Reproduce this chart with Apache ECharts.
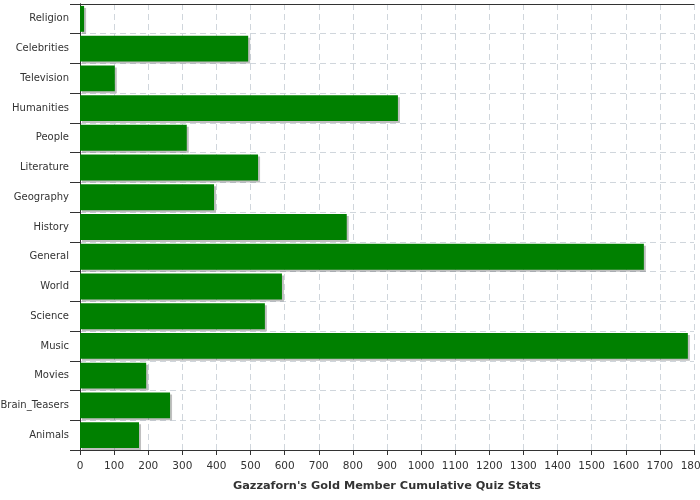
<!DOCTYPE html>
<html>
<head>
<meta charset="utf-8">
<script src="https://cdn.jsdelivr.net/npm/echarts@6/dist/echarts.min.js"></script>
<style>html,body{margin:0;padding:0;background:#fff;}#c{width:700px;height:500px;}</style>
</head>
<body>
<div id="c"></div>
<script>
var categories = ["Religion","Celebrities","Television","Humanities","People","Literature","Geography","History","General","World","Science","Music","Movies","Brain_Teasers","Animals"];
var values = [12, 493, 102, 932, 313, 522, 393, 782, 1653, 592, 542, 1782, 194, 264, 173];
var axisTitle = "Gazzaforn's Gold Member Cumulative Quiz Stats";

var chart = echarts.init(document.getElementById('c'), null, {renderer: 'canvas'});
var font = 'DejaVu Sans';
chart.setOption({
  animation: false,
  backgroundColor: '#fff',
  grid: {left: 80, right: 6, top: 4, bottom: 50, containLabel: false, outerBoundsMode: 'none'},
  xAxis: [{
    type: 'value', min: 0, max: 1800, interval: 100,
    name: axisTitle, nameLocation: 'middle', nameGap: 31,
    nameTextStyle: {fontFamily: font, fontSize: 11.3, fontWeight: 'bold', color: '#333'},
    axisLine: {show: true, lineStyle: {color: '#333'}},
    axisTick: {show: true, length: 5, lineStyle: {color: '#333'}},
    axisLabel: {fontFamily: font, fontSize: 10.5, color: '#333', margin: 11, formatter: function (v) { return String(v); }},
    splitLine: {show: true, lineStyle: {color: '#d0d6dc', type: [6, 4]}}
  }, {
    type: 'value', position: 'top', min: 0, max: 1800, interval: 100,
    axisLine: {show: true, lineStyle: {color: '#333'}},
    axisTick: {show: false}, axisLabel: {show: false}, splitLine: {show: false}
  }],
  yAxis: [{
    type: 'category', data: categories, inverse: true,
    axisLine: {show: true, lineStyle: {color: '#333'}},
    axisTick: {show: true, length: 10, lineStyle: {color: '#333'}},
    axisLabel: {fontFamily: font, fontSize: 10, color: '#333', margin: 11},
    splitLine: {show: true, lineStyle: {color: '#d0d6dc', type: [6, 4]}}
  }, {
    type: 'category', data: categories, inverse: true, position: 'right',
    axisLine: {show: true, lineStyle: {color: '#333'}},
    axisTick: {show: false}, axisLabel: {show: false}, splitLine: {show: false}
  }],
  series: [{
    type: 'bar', data: values, barCategoryGap: '13%', xAxisIndex: 0, yAxisIndex: 0,
    itemStyle: {color: '#008000', shadowColor: 'rgba(0,0,0,0.25)', shadowOffsetX: 2, shadowOffsetY: 2, shadowBlur: 0}
  }]
});
</script>
</body>
</html>
